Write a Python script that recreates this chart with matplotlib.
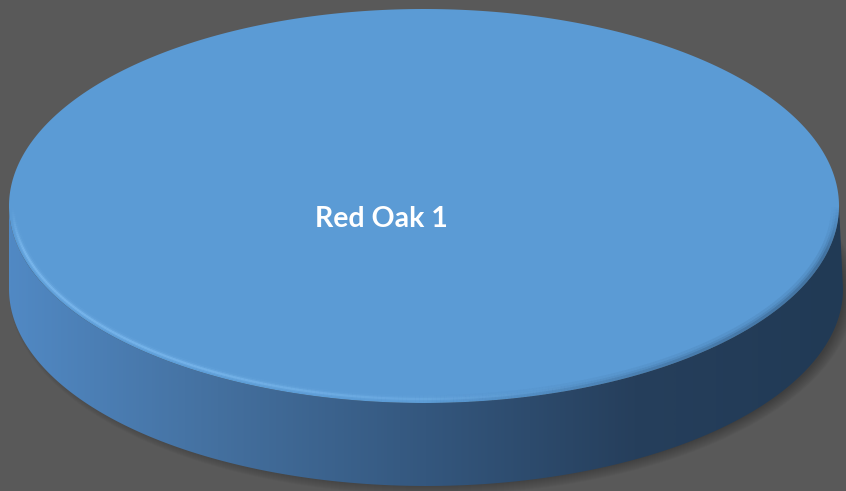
import numpy as np
import matplotlib
matplotlib.use("Agg")
import matplotlib.pyplot as plt
from matplotlib.patches import Polygon, Ellipse
from matplotlib.collections import LineCollection
from matplotlib.colors import LinearSegmentedColormap, to_rgba

labels = ["Red Oak 1"]
values = [1.0]
colors = ["#5b9bd5"]

W, H = 846, 491
BG = "#595959"
cx, cy, a, b, depth = 424, 206, 415, 197, 83

fig = plt.figure(figsize=(W / 100, H / 100), dpi=100, facecolor=BG)
ax = fig.add_axes([0, 0, 1, 1])
ax.set_xlim(0, W); ax.set_ylim(H, 0); ax.axis("off"); ax.set_facecolor(BG)

t = np.linspace(0, np.pi, 300)

# soft shadow under the disc
for k in range(12):
    ax.add_patch(Ellipse((cx + 8, cy + depth + 3), 2 * a + 16 - k * 2, 2 * b + 12 - k * 2,
                         facecolor="black", edgecolor="none", alpha=0.022, zorder=1))

def faded_arc(t0, t1, rx, ry, color, lw, prof, amax, z, clip):
    tt = np.linspace(t0, t1, 200)
    xs, ys = cx + rx * np.cos(tt), cy + ry * np.sin(tt)
    segs = np.stack([np.column_stack([xs[:-1], ys[:-1]]), np.column_stack([xs[1:], ys[1:]])], axis=1)
    u = np.linspace(0, 1, len(segs))
    al = amax * np.interp(u, prof[0], prof[1])
    lc = LineCollection(segs, colors=[to_rgba(color, v) for v in al], linewidths=lw, capstyle="butt", zorder=z)
    ax.add_collection(lc)
    lc.set_clip_path(clip)

frac = np.array(values) / np.sum(values)
start = 0.0
for lab, f, col in zip(labels, frac, colors):
    th = np.linspace(start, start + 2 * np.pi * f, 400)
    start += 2 * np.pi * f

    # side wall (front half only)
    top_arc = np.column_stack([cx + a * np.cos(t), cy + b * np.sin(t)])
    bot_arc = np.column_stack([cx + 2 + (a + 2) * np.cos(t[::-1]), cy + depth + b * np.sin(t[::-1])])
    side = Polygon(np.vstack([top_arc, bot_arc]), closed=True, facecolor="none", edgecolor="none", zorder=2)
    ax.add_patch(side)
    cmap = LinearSegmentedColormap.from_list("side", ["#5189c4", "#44709f", "#34577e", "#263f5c", "#213a55"])
    grad = np.linspace(0, 1, 512).reshape(1, -1)
    im = ax.imshow(grad, cmap=cmap, extent=[cx - a, cx + a + 4, cy + b + depth, cy], aspect="auto", zorder=2)
    im.set_clip_path(side)

    # top face
    pts = np.column_stack([cx + a * np.cos(th), cy + b * np.sin(th)])
    if f < 1:
        pts = np.vstack([[cx, cy], pts])
    top = Polygon(pts, closed=True, facecolor=col, edgecolor="none", zorder=3)
    ax.add_patch(top)

    # soft dark bevel on the right, light bevel on the front-left
    dark_prof = ([0, 0.15, 0.6, 1], [0, 1, 0.7, 0])
    for lw, al in [(10, 0.10), (6, 0.15), (3, 0.25)]:
        faded_arc(0.0, 0.5 * np.pi, a - 1, b - 1, "#25405e", lw, dark_prof, al, 4, top)
    light_prof = ([0, 0.12, 0.5, 1], [0, 1, 0.8, 0])
    for lw, al in [(6, 0.08), (3.5, 0.22), (1.6, 0.55)]:
        faded_arc(1.0 * np.pi, 0.35 * np.pi, a - 4, b - 4, "#86c3f7", lw, light_prof, al, 4, top)

    ax.text(381, 219, lab, color="white", fontsize=20.5, fontweight="bold",
            family=["Lato", "DejaVu Sans"], ha="center", va="center", zorder=5)

fig.savefig("out.png", dpi=100, facecolor=BG)
